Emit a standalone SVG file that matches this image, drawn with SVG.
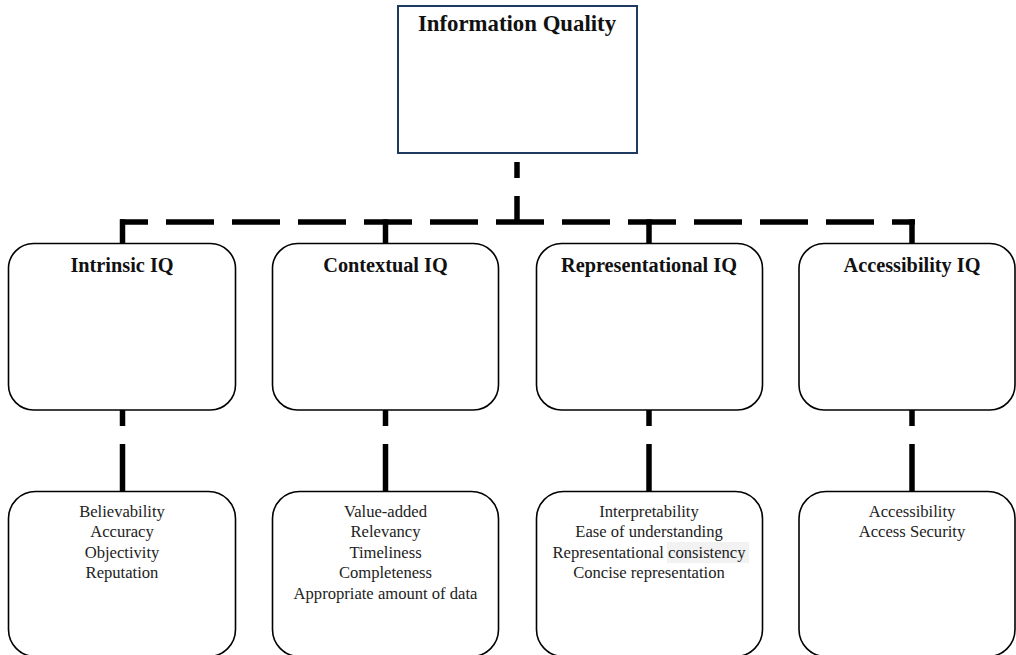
<svg xmlns="http://www.w3.org/2000/svg" width="1016" height="655" viewBox="0 0 1016 655">
  <style>
    .root { fill: #ffffff; stroke: #1f3a60; stroke-width: 2; }
    .cat { fill: #ffffff; stroke: #000000; stroke-width: 1.6; }
    .title { font-family: "Liberation Serif", "Times New Roman", serif; font-weight: bold; fill: #111111; text-anchor: middle; }
    .item { font-family: "Liberation Serif", "Times New Roman", serif; font-size: 16.6px; fill: #222222; text-anchor: middle; }
    .link { fill: none; stroke: #000000; stroke-width: 5.5; }
    .dash { stroke-dasharray: 48 18; stroke-dashoffset: 20; }
  </style>

  <rect width="1016" height="655" fill="#ffffff"/>

  <!-- connectors -->
  <g id="connectors">
    <!-- from the root down to the bus -->
    <line class="link" x1="517" y1="162" x2="517" y2="178"/>
    <line class="link" x1="517" y1="196" x2="517" y2="222"/>
    <!-- dashed horizontal bus -->
    <line class="link dash" x1="120" y1="222" x2="915" y2="222"/>
    <!-- drops onto each category -->
    <line class="link" x1="122.5" y1="219.3" x2="122.5" y2="244"/>
    <line class="link" x1="385.5" y1="219.3" x2="385.5" y2="244"/>
    <line class="link" x1="649" y1="219.3" x2="649" y2="244"/>
    <line class="link" x1="912" y1="219.3" x2="912" y2="244"/>
    <!-- category to dimension lists -->
    <line class="link" x1="122.5" y1="410" x2="122.5" y2="426"/>
    <line class="link" x1="122.5" y1="444" x2="122.5" y2="492"/>
    <line class="link" x1="385.5" y1="410" x2="385.5" y2="426"/>
    <line class="link" x1="385.5" y1="444" x2="385.5" y2="492"/>
    <line class="link" x1="649" y1="410" x2="649" y2="426"/>
    <line class="link" x1="649" y1="444" x2="649" y2="492"/>
    <line class="link" x1="912" y1="410" x2="912" y2="426"/>
    <line class="link" x1="912" y1="444" x2="912" y2="492"/>
  </g>

  <!-- root node -->
  <g id="information-quality">
    <rect class="root" x="398" y="6" width="239" height="147"/>
    <text class="title" x="517" y="30.5" font-size="22.8">Information Quality</text>
  </g>

  <!-- category nodes -->
  <g id="intrinsic-iq">
    <rect class="cat" x="8.5" y="243.5" width="227" height="166.5" rx="25" ry="25"/>
    <text class="title" x="122" y="272" font-size="20.3">Intrinsic IQ</text>
  </g>
  <g id="contextual-iq">
    <rect class="cat" x="272.5" y="243.5" width="226" height="166.5" rx="25" ry="25"/>
    <text class="title" x="385.5" y="272" font-size="20.3">Contextual IQ</text>
  </g>
  <g id="representational-iq">
    <rect class="cat" x="536.5" y="243.5" width="226" height="166.5" rx="25" ry="25"/>
    <text class="title" x="649" y="272" font-size="20.3">Representational IQ</text>
  </g>
  <g id="accessibility-iq">
    <rect class="cat" x="799" y="243.5" width="216" height="166.5" rx="25" ry="25"/>
    <text class="title" x="912" y="272" font-size="20.3">Accessibility IQ</text>
  </g>

  <!-- dimension lists -->
  <g id="intrinsic-dimensions">
    <rect class="cat" x="8.5" y="491.5" width="227" height="165" rx="27" ry="27"/>
    <text class="item" x="122" y="516.5">Believability</text>
    <text class="item" x="122" y="537">Accuracy</text>
    <text class="item" x="122" y="557.5">Objectivity</text>
    <text class="item" x="122" y="578">Reputation</text>
  </g>
  <g id="contextual-dimensions">
    <rect class="cat" x="272.5" y="491.5" width="226" height="165" rx="27" ry="27"/>
    <text class="item" x="385.5" y="516.5">Value-added</text>
    <text class="item" x="385.5" y="537">Relevancy</text>
    <text class="item" x="385.5" y="557.5">Timeliness</text>
    <text class="item" x="385.5" y="578">Completeness</text>
    <text class="item" x="385.5" y="598.5">Appropriate amount of data</text>
  </g>
  <g id="representational-dimensions">
    <rect class="cat" x="536.5" y="491.5" width="226" height="165" rx="27" ry="27"/>
    <rect x="667" y="542" width="82" height="21" fill="#f2f2f2"/>
    <text class="item" x="649" y="516.5">Interpretability</text>
    <text class="item" x="649" y="537">Ease of understanding</text>
    <text class="item" x="649" y="557.5">Representational consistency</text>
    <text class="item" x="649" y="578">Concise representation</text>
  </g>
  <g id="accessibility-dimensions">
    <rect class="cat" x="799" y="491.5" width="216" height="165" rx="27" ry="27"/>
    <text class="item" x="912" y="516.5">Accessibility</text>
    <text class="item" x="912" y="537">Access Security</text>
  </g>
</svg>
